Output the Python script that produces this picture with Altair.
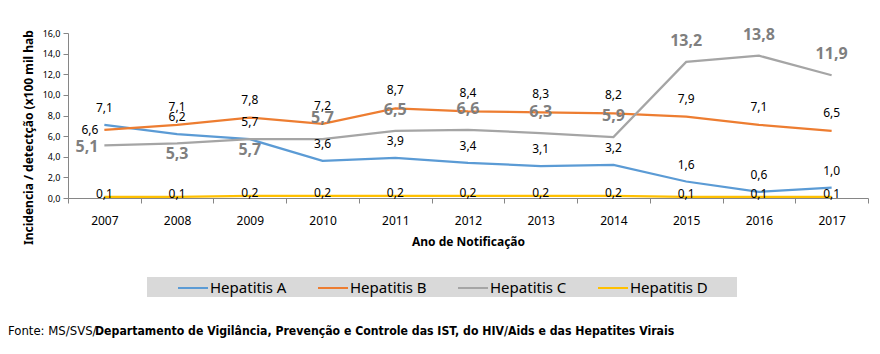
import altair as alt
import pandas as pd

years = ["2007", "2008", "2009", "2010", "2011", "2012", "2013", "2014", "2015", "2016", "2017"]
hep_a = [7.1, 6.2, 5.7, 3.6, 3.9, 3.4, 3.1, 3.2, 1.6, 0.6, 1.0]
hep_b = [6.6, 7.1, 7.8, 7.2, 8.7, 8.4, 8.3, 8.2, 7.9, 7.1, 6.5]
hep_c = [5.1, 5.3, 5.7, 5.7, 6.5, 6.6, 6.3, 5.9, 13.2, 13.8, 11.9]
hep_d = [0.1, 0.1, 0.2, 0.2, 0.2, 0.2, 0.2, 0.2, 0.1, 0.1, 0.1]
y_ticks = [0, 2, 4, 6, 8, 10, 12, 14, 16]
series_names = ["Hepatitis A", "Hepatitis B", "Hepatitis C", "Hepatitis D"]
series_colors = ["#5b9bd5", "#ed7d31", "#a5a5a5", "#ffc000"]

rows = []
for name, vals in zip(series_names, [hep_a, hep_b, hep_c, hep_d]):
    for y, v in zip(years, vals):
        rows.append({"ano": y, "serie": name, "valor": v})
df = pd.DataFrame(rows)

FONT = "Noto Sans"
NARROW = "'DejaVu Sans Condensed', Roboto"

base = alt.Chart(df).transform_calculate(
    rotulo="replace(format(datum.valor, '.1f'), '.', ',')"
)

x_enc = alt.X(
    "ano:N",
    sort=years,
    scale=alt.Scale(paddingInner=0, paddingOuter=0),
    axis=alt.Axis(
        title="Ano de Notificação",
        titleFont=FONT, titleFontSize=12, titleFontWeight="bold", titleColor="#000000",
        titleY=43, titleBaseline="middle",
        labelFont=FONT, labelFontSize=12, labelColor="#000000", labelAngle=0, labelPadding=12,
        tickBand="extent", tickSize=5, tickColor="#868686",
        domainColor="#868686", grid=False,
    ),
)
y_enc = alt.Y(
    "valor:Q",
    scale=alt.Scale(domain=[0, 16], nice=False),
    axis=alt.Axis(
        title="Incidencia / detectção (x100 mil hab",
        titleFont=FONT, titleFontSize=12, titleFontWeight="bold", titleColor="#000000",
        titleX=-40, titleY=104, titleAngle=270, titleAlign="center", titleBaseline="middle",
        values=y_ticks, tickCount=9,
        labelExpr="replace(format(datum.value, '.1f'), '.', ',')",
        labelFont=FONT, labelFontSize=9, labelColor="#000000", labelPadding=3,
        labelOverlap=False,
        tickSize=5, tickColor="#868686", domainColor="#868686", grid=False,
    ),
)

legend_bg = alt.Chart(pd.DataFrame({"k": [0]})).mark_rect(color="#d9d9d9").encode(
    x=alt.value(79), x2=alt.value(669), y=alt.value(244), y2=alt.value(264)
)

lines = base.mark_line(strokeWidth=2.25).encode(
    x=x_enc,
    y=y_enc,
    color=alt.Color(
        "serie:N",
        scale=alt.Scale(domain=series_names, range=series_colors),
        legend=alt.Legend(
            title=None, orient="none", legendX=109, legendY=239, direction="horizontal",
            symbolType="stroke", symbolSize=900, symbolStrokeWidth=2,
            labelFont=FONT, labelFontSize=15, labelColor="#000000", labelOffset=1,
            columnPadding=27, padding=0,
        ),
    ),
)

def labels(filter_expr, dx=0, dy=0, align="center", size=12, weight="normal", color="#000000"):
    return base.transform_filter(filter_expr).mark_text(
        dx=dx, dy=dy, align=align, baseline="middle", font=FONT,
        fontSize=size, fontWeight=weight, color=color,
    ).encode(x=x_enc, y=y_enc, text="rotulo:N")

lab_a = labels("datum.serie == 'Hepatitis A'", dy=-17)
lab_b1 = labels("datum.serie == 'Hepatitis B' && datum.ano == '2007'", dx=-6, align="right")
lab_b = labels("datum.serie == 'Hepatitis B' && datum.ano != '2007'", dy=-18)
gray = dict(size=16, weight="bold", color="#7f7f7f")
lab_c1 = labels("datum.serie == 'Hepatitis C' && datum.ano == '2007'", dx=-6, dy=2, align="right", **gray)
lab_c2 = labels("datum.serie == 'Hepatitis C' && (datum.ano == '2008' || datum.ano == '2009')", dy=11, **gray)
lab_c3 = labels("datum.serie == 'Hepatitis C' && toNumber(datum.ano) >= 2010", dy=-21, **gray)
lab_d = labels("datum.serie == 'Hepatitis D'", dy=-3)

one = pd.DataFrame({"k": [0]})
fonte1 = alt.Chart(one).mark_text(
    text="Fonte: MS/SVS/", align="left", baseline="middle", font=NARROW, fontSize=13, color="#000000"
).encode(x=alt.value(-60), y=alt.value(298))
fonte2 = alt.Chart(one).mark_text(
    text="Departamento de Vigilância, Prevenção e Controle das IST, do HIV/Aids e das Hepatites Virais",
    align="left", baseline="middle", font=NARROW, fontSize=12.2, fontWeight="bold", color="#000000"
).encode(x=alt.value(27), y=alt.value(298))

chart = alt.layer(
    legend_bg, lines, lab_a, lab_b1, lab_b, lab_c1, lab_c2, lab_c3, lab_d, fonte1, fonte2
).properties(
    width=800, height=165,
    autosize=alt.AutoSizeParams(type="none"),
    padding={"left": 68, "top": 33, "right": 12, "bottom": 156},
    background="#ffffff",
).configure_view(stroke=None)

chart.save("out.html", embed_options={"renderer": "svg", "actions": False})
